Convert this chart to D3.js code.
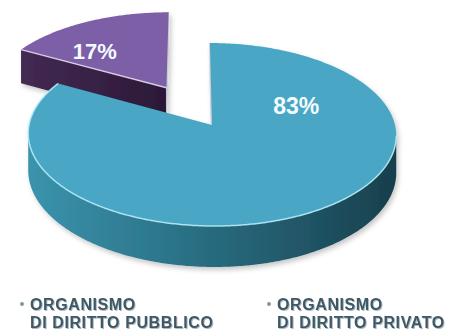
<!DOCTYPE html>
<html>
<head>
<meta charset="utf-8">
<script src="https://cdn.jsdelivr.net/npm/d3@7"></script>
<style>
  html, body { margin: 0; padding: 0; background: #ffffff; }
  svg { display: block; }
</style>
</head>
<body>
<svg id="chart" width="454" height="332"></svg>
<script>
// ---- data ----
const shares = [83, 17];
const shareLabels = ["83%", "17%"];
const legendTitles = ["ORGANISMO", "ORGANISMO"];
const legendSubtitles = ["DI DIRITTO PUBBLICO", "DI DIRITTO PRIVATO"];

// ---- look & layout ----
const explodeBy = [0, 0.5];                       // radial pull-out, in radius units
const topColors = ["#4aa6c4", "#7d5ea7"];
const sideStops = [
  [["0", "#3b93ad"], ["0.4", "#2b7388"], ["0.75", "#205566"], ["1", "#183f4c"]],
  [["0", "#432a53"], ["1", "#2b1836"]]
];
const rimColors = ["#b5eaf7", "#e2d6f0"];
const labelPlacement = [{ a: 65.6, r: 0.52, size: 23 }, { a: 316.4, r: 0.63, size: 22 }];

const svg = d3.select("#chart");
const defs = svg.append("defs");

// simple perspective camera for a tilted disc
const VX = 190, OX = 22, CY = 125, RX = 183, RY = 90.5, K = 0.104, DEPTH = 36.7;
const camera = [-OX / RX, 1 / K];                 // camera ground position in disc units
function project(u, v, h) {
  const d = 1 - K * v;
  return [VX + (RX * u + OX) / d, CY + (RY * v + DEPTH * h) / d];
}

const pie = d3.pie().sort(null).startAngle(0).endAngle(2 * Math.PI);
const slices = pie(shares).map((a, i) => {
  const mid = (a.startAngle + a.endAngle) / 2;
  const e = explodeBy[i];
  return Object.assign({}, a, { i, ou: e * Math.sin(mid), ov: -e * Math.cos(mid) });
});

const world = (s, r, th) => [s.ou + r * Math.sin(th), s.ov - r * Math.cos(th)];
const pt = (s, r, th, h) => { const w = world(s, r, th); return project(w[0], w[1], h); };
const angles = (a0, a1) => {
  const n = Math.max(2, Math.ceil(Math.abs(a1 - a0) / 0.01));
  return d3.range(n + 1).map(j => a0 + (a1 - a0) * j / n);
};
const line = d3.line();

// gradients for the side walls
slices.forEach(s => {
  const xs = angles(s.startAngle, s.endAngle).map(t => pt(s, 1, t, 0)[0]).concat([pt(s, 0, 0, 0)[0]]);
  const g = defs.append("linearGradient")
    .attr("id", "side" + s.i).attr("gradientUnits", "userSpaceOnUse")
    .attr("x1", d3.min(xs)).attr("x2", d3.max(xs)).attr("y1", 0).attr("y2", 0);
  sideStops[s.i].forEach(([o, c]) => g.append("stop").attr("offset", o).attr("stop-color", c));
});

const shadow = defs.append("filter").attr("id", "soft").attr("x", "-10%").attr("y", "-10%")
  .attr("width", "130%").attr("height", "140%");
shadow.append("feDropShadow").attr("dx", 2).attr("dy", 3).attr("stdDeviation", 2.5)
  .attr("flood-color", "#000").attr("flood-opacity", 0.22);

const textShadow = defs.append("filter").attr("id", "tshadow").attr("x", "-5%").attr("y", "-30%")
  .attr("width", "115%").attr("height", "170%");
textShadow.append("feDropShadow").attr("dx", 1).attr("dy", 1).attr("stdDeviation", 0.7)
  .attr("flood-color", "#7d8c94").attr("flood-opacity", 0.6);

const pieG = svg.append("g").attr("filter", "url(#soft)");

// farther slices are painted first
const order = slices.slice().sort((a, b) => a.ov - b.ov);

order.forEach(s => {
  const g = pieG.append("g");
  const centre = [s.ou, s.ov];
  const toCam = [camera[0] - centre[0], camera[1] - centre[1]];

  // radial cut faces
  [[s.startAngle, -1], [s.endAngle, 1]].forEach(([a, side]) => {
    if (s.endAngle - s.startAngle >= 2 * Math.PI - 1e-6) return;
    const n = side < 0 ? [-Math.cos(a), -Math.sin(a)] : [Math.cos(a), Math.sin(a)];
    if (n[0] * toCam[0] + n[1] * toCam[1] <= 0) return;
    const quad = [pt(s, 0, a, 0), pt(s, 1, a, 0), pt(s, 1, a, 1), pt(s, 0, a, 1)];
    const edgeOn = Math.abs(n[1]) < 0.3;
    g.append("path")
      .attr("d", line(quad) + "Z")
      .attr("fill", edgeOn ? "#cfd3d8" : "url(#side" + s.i + ")")
      .attr("stroke", edgeOn ? "#c4c8ce" : "none")
      .attr("stroke-width", 0.8);
  });

  // outer wall, only where it faces the camera
  const facing = t => {
    const p = world(s, 1, t);
    const n = [Math.sin(t), -Math.cos(t)];
    return n[0] * (camera[0] - p[0]) + n[1] * (camera[1] - p[1]) > 0;
  };
  const ts = angles(s.startAngle, s.endAngle);
  const runs = [];
  let cur = null;
  ts.forEach(t => {
    if (facing(t)) { if (!cur) { cur = []; runs.push(cur); } cur.push(t); }
    else cur = null;
  });
  runs.forEach(run => {
    if (run.length < 2) return;
    const topArc = run.map(t => pt(s, 1, t, 0));
    const botArc = run.slice().reverse().map(t => pt(s, 1, t, 1));
    g.append("path").attr("d", line(topArc.concat(botArc)) + "Z")
      .attr("fill", "url(#side" + s.i + ")");
  });

  // top face
  const top = [pt(s, 0, 0, 0)].concat(ts.map(t => pt(s, 1, t, 0)));
  g.append("path").attr("d", line(top) + "Z").attr("fill", topColors[s.i]);

  // light rim along the near edges of the top face
  if (runs.length && runs[0].length > 1) {
    const from = runs[0][0];
    const rim = angles(from, s.endAngle).map(t => pt(s, 1, t, 0));
    g.append("path").attr("d", line(rim)).attr("fill", "none")
      .attr("stroke", rimColors[s.i]).attr("stroke-width", 1.5).attr("stroke-opacity", 0.9);
  }
  if (s.endAngle - s.startAngle < Math.PI) {
    const edge = [pt(s, 0, s.startAngle, 0), pt(s, 1, s.startAngle, 0)];
    g.append("path").attr("d", line(edge)).attr("fill", "none")
      .attr("stroke", rimColors[s.i]).attr("stroke-width", 1.5).attr("stroke-opacity", 0.9);
  }
});

// percentage labels on the top faces
slices.forEach(s => {
  const lp = labelPlacement[s.i];
  const p = pt(s, lp.r, lp.a * Math.PI / 180, 0);
  svg.append("text")
    .attr("x", p[0]).attr("y", p[1]).attr("dy", "0.36em")
    .attr("text-anchor", "middle")
    .attr("font-family", "'Liberation Sans', Arial, sans-serif")
    .attr("font-weight", "bold")
    .attr("font-size", lp.size)
    .attr("fill", "#f4fbff")
    .text(shareLabels[s.i]);
});

// legend
const legendX = d3.scalePoint().domain(d3.range(shares.length)).range([30, 277]);
const legend = svg.append("g")
  .attr("font-family", "'Liberation Sans', Arial, sans-serif")
  .attr("font-weight", "bold")
  .attr("font-size", 16)
  .attr("letter-spacing", 0.6);
shares.forEach((_, i) => {
  const x = legendX(i);
  legend.append("circle").attr("cx", x - 8).attr("cy", 304).attr("r", 2).attr("fill", "#8596a0");
  legend.append("text").attr("x", x).attr("y", 309.5)
    .attr("fill", "#3d5866").attr("filter", "url(#tshadow)")
    .text(legendTitles[i]);
  legend.append("text").attr("x", x).attr("y", 327.5)
    .attr("fill", "#3d5866").attr("filter", "url(#tshadow)")
    .text(legendSubtitles[i]);
});
</script>
</body>
</html>
